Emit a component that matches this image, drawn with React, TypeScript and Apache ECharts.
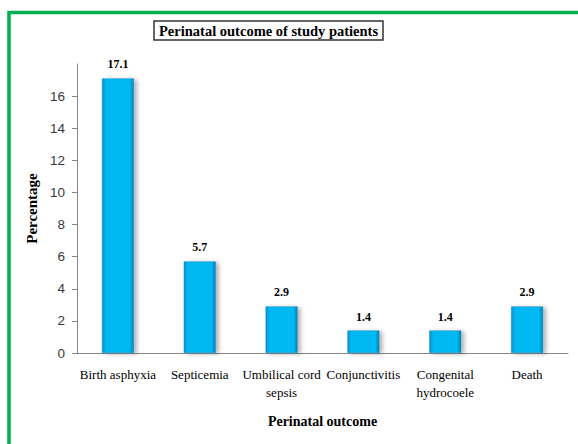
import React, { useEffect, useRef } from "react";
import * as echarts from "echarts";

const categories = [
  "Birth asphyxia",
  "Septicemia",
  "Umbilical cord\nsepsis",
  "Conjunctivitis",
  "Congenital\nhydrocoele",
  "Death",
];
const values = [17.1, 5.7, 2.9, 1.4, 1.4, 2.9];
const titleText = "Perinatal outcome of study patients";
const xAxisName = "Perinatal outcome";
const yAxisName = "Percentage";

export default function App() {
  const ref = useRef<HTMLDivElement>(null);
  useEffect(() => {
    if (!ref.current) return;
    const chart = echarts.init(ref.current, null, { renderer: "svg" });
    const serif = "'Liberation Serif', 'Times New Roman', serif";
    chart.setOption({
      animation: false,
      backgroundColor: "#ffffff",
      title: {
        text: titleText,
        left: 154,
        top: 21,
        padding: [1, 5, 1, 5],
        borderColor: "#333333",
        borderWidth: 1.5,
        textStyle: {
          fontFamily: serif,
          fontWeight: "bold",
          fontSize: 14.5,
          lineHeight: 17,
          color: "#000000",
        },
      },
      graphic: [
        {
          type: "rect",
          shape: { x: 9, y: 12.5, width: 620, height: 500 },
          style: { fill: "none", stroke: "#00B050", lineWidth: 3.5 },
          silent: true,
        },
      ],
      grid: { left: 77, right: 10, top: 64, bottom: 91, containLabel: false },
      xAxis: {
        type: "category",
        data: categories,
        name: xAxisName,
        nameLocation: "middle",
        nameGap: 61,
        nameTextStyle: {
          fontFamily: serif,
          fontWeight: "bold",
          fontSize: 14,
          color: "#000000",
        },
        axisLine: { lineStyle: { color: "#868686", width: 1 } },
        axisTick: { show: false },
        axisLabel: {
          interval: 0,
          margin: 12,
          fontFamily: serif,
          fontSize: 13,
          lineHeight: 18,
          color: "#000000",
        },
      },
      yAxis: {
        type: "value",
        min: 0,
        max: 18,
        interval: 2,
        name: yAxisName,
        nameLocation: "middle",
        nameGap: 38,
        nameTextStyle: {
          fontFamily: serif,
          fontWeight: "bold",
          fontSize: 15,
          color: "#000000",
        },
        splitLine: { show: false },
        axisLine: { show: true, lineStyle: { color: "#868686", width: 1 } },
        axisTick: { show: true, length: 5, lineStyle: { color: "#868686" } },
        axisLabel: {
          showMaxLabel: false,
          margin: 12,
          fontFamily: "'Liberation Sans', Arial, sans-serif",
          fontSize: 13.5,
          color: "#3a3a3a",
        },
      },
      series: [
        {
          type: "bar",
          data: values,
          barWidth: 32,
          itemStyle: {
            color: {
              type: "linear",
              x: 0,
              y: 0,
              x2: 1,
              y2: 0,
              colorStops: [
                { offset: 0, color: "#0c8fc6" },
                { offset: 0.12, color: "#00b8f2" },
                { offset: 0.88, color: "#00b8f2" },
                { offset: 1, color: "#0a7fb2" },
              ],
            },
            borderColor: "#1a8cbf",
            borderWidth: 0.5,
            shadowColor: "rgba(0,0,0,0.3)",
            shadowOffsetX: 3,
            shadowOffsetY: 1,
            shadowBlur: 4,
          },
          label: {
            show: true,
            position: "top",
            distance: 8,
            fontFamily: serif,
            fontWeight: "bold",
            fontSize: 12,
            color: "#000000",
          },
        },
      ],
    });
    return () => chart.dispose();
  }, []);
  return (
    <div
      ref={ref}
      style={{ position: "fixed", left: 0, top: 0, width: 578, height: 444 }}
    />
  );
}
